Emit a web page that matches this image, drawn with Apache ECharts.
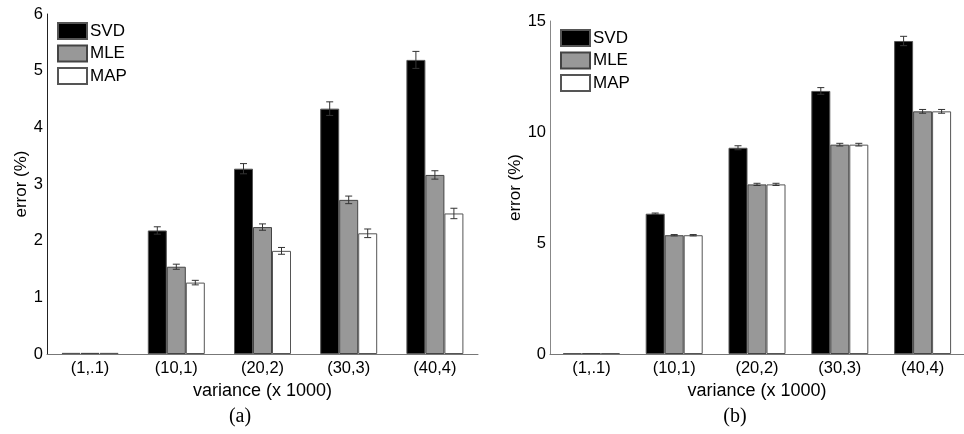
<!DOCTYPE html>
<html>
<head>
<meta charset="utf-8">
<script src="https://cdn.jsdelivr.net/npm/echarts@6/dist/echarts.min.js"></script>
<style>
html,body{margin:0;padding:0;background:#fff;}
#c{width:964px;height:434px;}
</style>
</head>
<body>
<div id="c"></div>
<script>
var categories = ['(1,.1)', '(10,1)', '(20,2)', '(30,3)', '(40,4)'];
var seriesNames = ['SVD', 'MLE', 'MAP'];

// panel (a)
var aSVD = [0.02, 2.18, 3.27, 4.33, 5.19];
var aSVDErr = [0, 0.065, 0.09, 0.12, 0.15];
var aMLE = [0.02, 1.54, 2.24, 2.72, 3.16];
var aMLEErr = [0, 0.045, 0.056, 0.067, 0.074];
var aMAP = [0.02, 1.26, 1.82, 2.13, 2.48];
var aMAPErr = [0, 0.04, 0.06, 0.076, 0.092];

// panel (b)
var bSVD = [0.04, 6.32, 9.29, 11.85, 14.1];
var bSVDErr = [0, 0.03, 0.09, 0.15, 0.21];
var bMLE = [0.04, 5.35, 7.64, 9.43, 10.93];
var bMLEErr = [0, 0.03, 0.05, 0.06, 0.085];
var bMAP = [0.04, 5.35, 7.64, 9.43, 10.93];
var bMAPErr = [0, 0.03, 0.05, 0.06, 0.085];

var aTicks = [0, 6, 1];   // min, max, interval
var bTicks = [0, 15, 5];

var BAR_W = 19;
var styles = [
  {color: '#000000', borderColor: '#555555', borderWidth: 1, borderRadius: 0},
  {color: '#989898', borderColor: '#444444', borderWidth: 1, borderRadius: 0},
  {color: '#ffffff', borderColor: '#555555', borderWidth: 1, borderRadius: 0}
];
var SANS = 'Liberation Sans, Arial, sans-serif';

function barSeries(name, data, gi, si) {
  return {
    type: 'bar', name: name, data: data,
    xAxisIndex: gi, yAxisIndex: gi,
    barWidth: BAR_W, barGap: '0%',
    itemStyle: styles[si],
    emphasis: {disabled: true},
    z: 2
  };
}
function errSeries(vals, errs, gi, si) {
  var d = vals.map(function (v, i) { return [i, v, errs[i]]; });
  var off = (si - 1) * BAR_W;
  return {
    type: 'custom', xAxisIndex: gi, yAxisIndex: gi, z: 5, clip: false,
    silent: true,
    data: d,
    renderItem: function (params, api) {
      var idx = api.value(0), v = api.value(1), e = api.value(2);
      if (!(e > 0)) return null;
      var top = api.coord([idx, v + e]);
      var bot = api.coord([idx, v - e]);
      var x = top[0] + off;
      var cap = 3.5;
      var st = {stroke: '#333333', lineWidth: 1};
      return {
        type: 'group',
        children: [
          {type: 'line', shape: {x1: x, y1: top[1], x2: x, y2: bot[1]}, style: st},
          {type: 'line', shape: {x1: x - cap, y1: top[1], x2: x + cap, y2: top[1]}, style: st},
          {type: 'line', shape: {x1: x - cap, y1: bot[1], x2: x + cap, y2: bot[1]}, style: st}
        ]
      };
    }
  };
}

function xAxis(gi) {
  return {
    type: 'category', gridIndex: gi, data: categories,
    name: 'variance (x 1000)', nameLocation: 'middle', nameGap: 22,
    nameTextStyle: {fontFamily: SANS, fontSize: 18, color: '#000'},
    axisLine: {lineStyle: {color: '#777777', width: 1}},
    axisTick: {show: false},
    axisLabel: {fontFamily: SANS, fontSize: 16.5, color: '#000', margin: 6},
    splitLine: {show: false}
  };
}
function yAxis(gi, t, lineColor, nameGap) {
  return {
    type: 'value', gridIndex: gi, min: t[0], max: t[1], interval: t[2],
    name: 'error (%)', nameLocation: 'middle', nameGap: nameGap,
    nameTextStyle: {fontFamily: SANS, fontSize: 17, color: '#000'},
    axisLine: {show: true, lineStyle: {color: lineColor, width: 1}},
    axisTick: {show: false},
    axisLabel: {fontFamily: SANS, fontSize: 16.5, color: '#000', margin: 4},
    splitLine: {show: false}
  };
}
function legend(left, top) {
  return {
    data: seriesNames.map(function (n) { return {name: n, icon: 'rect'}; }),
    icon: 'rect',
    orient: 'vertical', left: left, top: top,
    itemWidth: 29, itemHeight: 16, itemGap: 4.5, padding: 0,
    selectedMode: false,
    itemStyle: {borderRadius: 0},
    textStyle: {fontFamily: SANS, fontSize: 17, color: '#000', padding: [0, 0, 0, -2]}
  };
}

var series = [];
var aVals = [aSVD, aMLE, aMAP], aErrs = [aSVDErr, aMLEErr, aMAPErr];
var bVals = [bSVD, bMLE, bMAP], bErrs = [bSVDErr, bMLEErr, bMAPErr];
for (var i = 0; i < 3; i++) series.push(barSeries(seriesNames[i], aVals[i], 0, i));
for (var i = 0; i < 3; i++) series.push(barSeries(seriesNames[i], bVals[i], 1, i));
for (var i = 0; i < 3; i++) series.push(errSeries(aVals[i], aErrs[i], 0, i));
for (var i = 0; i < 3; i++) series.push(errSeries(bVals[i], bErrs[i], 1, i));

var chart = echarts.init(document.getElementById('c'), null, {renderer: 'canvas'});
chart.setOption({
  backgroundColor: '#ffffff',
  animation: false,
  grid: [
    {left: 47, top: 14, width: 431, height: 340},
    {left: 550, top: 21, width: 422, height: 333}
  ],
  xAxis: [xAxis(0), xAxis(1)],
  yAxis: [yAxis(0, aTicks, '#222222', 16), yAxis(1, bTicks, '#888888', 26)],
  legend: [legend(57, 22), legend(560, 29)],
  series: series,
  graphic: [
    {type: 'text', x: 240, y: 417, silent: true,
     style: {text: '(a)', textAlign: 'center', textVerticalAlign: 'middle',
             font: '20px "Liberation Serif", "Times New Roman", serif', fill: '#000'}},
    {type: 'text', x: 735, y: 417, silent: true,
     style: {text: '(b)', textAlign: 'center', textVerticalAlign: 'middle',
             font: '20px "Liberation Serif", "Times New Roman", serif', fill: '#000'}}
  ]
});
</script>
</body>
</html>
